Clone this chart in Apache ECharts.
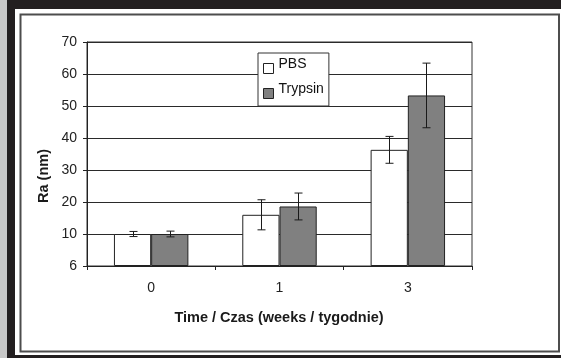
<!DOCTYPE html>
<html>
<head>
<meta charset="utf-8">
<script src="https://cdn.jsdelivr.net/npm/echarts@6/dist/echarts.min.js"></script>
<style>
html,body{margin:0;padding:0;background:#231f20;}
#chart{width:561px;height:358px;}
</style>
</head>
<body>
<div id="chart"></div>
<script>
// ---- data ----
const categories = ['0', '1', '3'];
const seriesNames = ['PBS', 'Trypsin'];
const pbsValues = [10.0, 16.0, 36.3];
const pbsErrors = [0.8, 4.7, 4.2];
const trypsinValues = [10.0, 18.6, 53.3];
const trypsinErrors = [0.9, 4.2, 10.1];
const yTickValues = [0, 10, 20, 30, 40, 50, 60, 70];
const yTickLabels = ['6', '10', '20', '30', '40', '50', '60', '70'];
const xTitle = 'Time / Czas (weeks / tygodnie)';
const yTitle = 'Ra (nm)';

// ---- chart ----
const FONT = '"Liberation Sans", Arial, sans-serif';
const BAR_FRAC = 0.29;
const chart = echarts.init(document.getElementById('chart'), null, {renderer: 'canvas'});

function errData(vals, errs) {
  return vals.map((v, i) => [i, v, errs[i]]);
}
function errRender(sign) {
  return function (params, api) {
    const ci = api.value(0), v = api.value(1), e = api.value(2);
    const bandW = api.size([1, 0])[0];
    const off = sign * bandW * BAR_FRAC / 2;
    const top = api.coord([ci, v + e]);
    const bot = api.coord([ci, v - e]);
    const x = Math.round(top[0] + off) + 0.5;
    const cap = 4;
    const st = {stroke: '#1a1a1a', lineWidth: 1};
    return {
      type: 'group',
      children: [
        {type: 'line', shape: {x1: x, y1: top[1], x2: x, y2: bot[1]}, style: st},
        {type: 'line', shape: {x1: x - cap, y1: top[1], x2: x + cap, y2: top[1]}, style: st},
        {type: 'line', shape: {x1: x - cap, y1: bot[1], x2: x + cap, y2: bot[1]}, style: st}
      ]
    };
  };
}

const option = {
  animation: false,
  backgroundColor: '#231f20',
  textStyle: {fontFamily: FONT},
  graphic: [
    {type: 'rect', z: -10, shape: {x: 0, y: 0, width: 7, height: 358}, style: {fill: '#c8c8c8'}},
    {type: 'rect', z: -9, shape: {x: 15, y: 9, width: 546, height: 346}, style: {fill: '#ffffff'}},
    {type: 'rect', z: -8, shape: {x: 20.5, y: 14.5, width: 538.5, height: 337}, style: {fill: 'none', stroke: '#4d4d4d', lineWidth: 2}},
    {type: 'text', z: 5, x: 44, y: 176, rotation: Math.PI / 2,
      style: {text: yTitle, font: 'bold 14.5px ' + FONT, fill: '#1a1a1a', align: 'center', verticalAlign: 'middle'}},
    {type: 'text', z: 5, x: 279, y: 318,
      style: {text: xTitle, font: 'bold 14.5px ' + FONT, fill: '#1a1a1a', align: 'center', verticalAlign: 'middle'}}
  ],
  grid: {left: 87, right: 89, top: 42, bottom: 92, show: true, borderColor: '#333', borderWidth: 1, backgroundColor: 'transparent'},
  legend: {
    orient: 'vertical', left: 258, top: 53,
    data: seriesNames,
    backgroundColor: '#fff', borderColor: '#333', borderWidth: 1,
    padding: [4, 5, 1, 5],
    itemWidth: 10, itemHeight: 10, itemGap: 2,
    icon: 'rect',
    itemStyle: {borderWidth: 1, borderColor: '#222'},
    formatter: '{a|{name}}',
    textStyle: {
      fontFamily: FONT, fontSize: 14, color: '#111',
      rich: {a: {fontFamily: FONT, fontSize: 14, lineHeight: 15, color: '#111', padding: [0, 0, 9, 0]}}
    }
  },
  xAxis: {
    type: 'category', data: categories,
    axisLine: {lineStyle: {color: '#222', width: 1}},
    axisTick: {show: true, length: 4, lineStyle: {color: '#222'}},
    axisLabel: {fontFamily: FONT, fontSize: 14, color: '#222', margin: 15}
  },
  yAxis: {
    type: 'value', min: 0, max: 70, interval: 10,
    axisLine: {show: true, lineStyle: {color: '#222', width: 1}},
    axisTick: {show: true, length: 4, lineStyle: {color: '#222'}},
    splitLine: {lineStyle: {color: '#2a2a2a', width: 1}},
    axisLabel: {
      fontFamily: FONT, fontSize: 14, color: '#222', margin: 10,
      formatter: function (v) { const i = yTickValues.indexOf(v); return i >= 0 ? yTickLabels[i] : ''; }
    }
  },
  series: [
    {name: seriesNames[0], type: 'bar', data: pbsValues, barWidth: (BAR_FRAC * 100) + '%', barGap: '0%',
      itemStyle: {color: '#ffffff', borderColor: '#222', borderWidth: 1}},
    {name: seriesNames[1], type: 'bar', data: trypsinValues, barWidth: (BAR_FRAC * 100) + '%', barGap: '0%',
      itemStyle: {color: '#808080', borderColor: '#222', borderWidth: 1}},
    {name: 'pbsErr', type: 'custom', data: errData(pbsValues, pbsErrors), renderItem: errRender(-1), z: 10,
      encode: {x: 0, y: 1}},
    {name: 'trypErr', type: 'custom', data: errData(trypsinValues, trypsinErrors), renderItem: errRender(1), z: 10,
      encode: {x: 0, y: 1}}
  ]
};
chart.setOption(option);
</script>
</body>
</html>
